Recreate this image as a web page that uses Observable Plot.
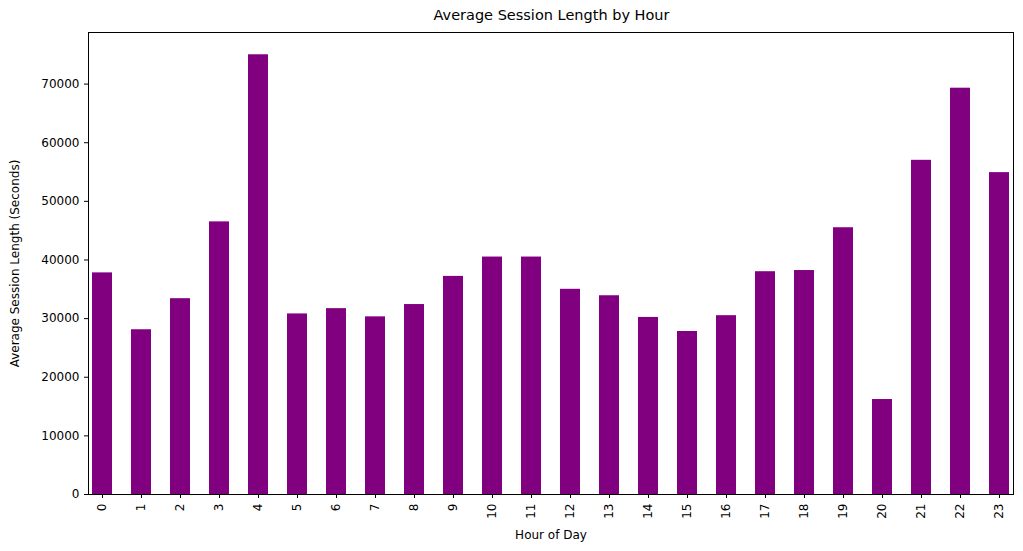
<!DOCTYPE html>
<html><head><meta charset="utf-8">
<script src="https://cdn.jsdelivr.net/npm/d3@7"></script>
<script src="https://cdn.jsdelivr.net/npm/@observablehq/plot@0.6"></script>
<style>body{margin:0;font-family:"DejaVu Sans";background:#fff}
#t{height:24px;line-height:30px;text-align:center;font-size:14.5px;padding-left:80px;width:1023px;box-sizing:border-box}</style>
</head><body><div id="t">Average Session Length by Hour</div><div id="c"></div>
<script>
const hours = Array.from({length:24},(_, i)=>String(i));
const values = [37800,28100,33400,46500,75000,30800,31700,30300,32400,37200,40500,40500,35000,33900,30200,27800,30500,38000,38200,45500,16200,57000,69300,54900];
const yTicks = [0,10000,20000,30000,40000,50000,60000,70000];
const data = hours.map((h,i)=>({h, v: values[i]}));
const chart = Plot.plot({
  width:1023, height:527, marginLeft:88, marginRight:10, marginTop:8, marginBottom:57,
  style:{fontFamily:"DejaVu Sans", fontSize:"12px", color:"#000"},
  x:{domain:hours, paddingInner:0.5, paddingOuter:0.1, label:null},
  y:{domain:[0,78800], label:null},
  marks:[
    Plot.barY(data,{x:"h", y:"v", fill:"#800080"}),
    Plot.axisX({tickRotate:-90, tickSize:4, label:"Hour of Day", labelAnchor:"center", labelArrow:"none", labelOffset:44, fontSize:12}),
    Plot.axisY({ticks:yTicks, tickFormat:d=>String(d), tickSize:4, label:"Average Session Length (Seconds)", labelAnchor:"center", labelArrow:"none", labelOffset:78, fontSize:12}),
    Plot.frame({stroke:"#000"})
  ]
});
document.getElementById("c").appendChild(chart);
</script></body></html>
